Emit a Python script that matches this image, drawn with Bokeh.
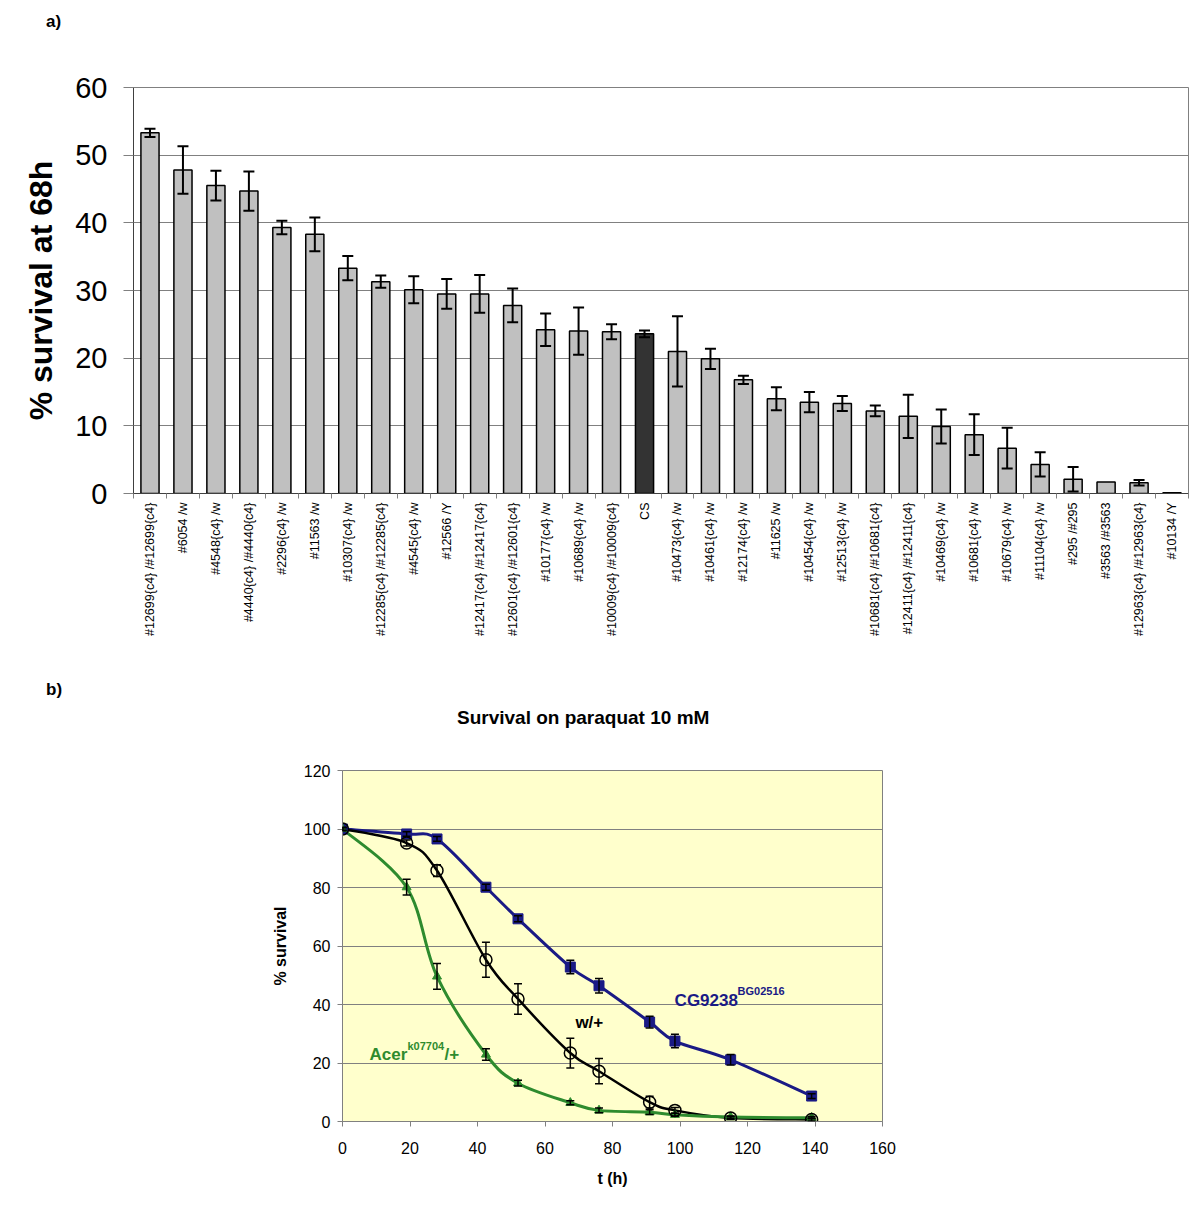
import numpy as np
from bokeh.plotting import figure
from bokeh.models import (FixedTicker, Whisker, TeeHead, ColumnDataSource, Label, Range1d, Div)
from bokeh.embed import file_html
from bokeh.resources import INLINE

# ---------------- data: panel a ----------------
strains = ["#12699{c4} /#12699{c4}", "#6054 /w", "#4548{c4} /w", "#4440{c4} /#4440{c4}",
           "#2296{c4} /w", "#11563 /w", "#10307{c4} /w", "#12285{c4} /#12285{c4}",
           "#4545{c4} /w", "#12566 /Y", "#12417{c4} /#12417{c4}", "#12601{c4} /#12601{c4}",
           "#10177{c4} /w", "#10689{c4} /w", "#10009{c4} /#10009{c4}", "CS",
           "#10473{c4} /w", "#10461{c4} /w", "#12174{c4} /w", "#11625 /w",
           "#10454{c4} /w", "#12513{c4} /w", "#10681{c4} /#10681{c4}", "#12411{c4} /#12411{c4}",
           "#10469{c4} /w", "#10681{c4} /w", "#10679{c4} /w", "#11104{c4} /w",
           "#295 /#295", "#3563 /#3563", "#12963{c4} /#12963{c4}", "#10134 /Y"]
survival = [53.3, 47.8, 45.5, 44.7, 39.3, 38.3, 33.3, 31.3, 30.1, 29.5, 29.5, 27.8,
            24.2, 24.0, 23.9, 23.6, 21.0, 19.9, 16.8, 14.0, 13.5, 13.3, 12.2, 11.4,
            9.9, 8.7, 6.7, 4.3, 2.1, 1.7, 1.6, 0.1]
survival_err = [0.6, 3.5, 2.2, 2.9, 1.0, 2.5, 1.8, 0.9, 2.0, 2.2, 2.8, 2.5,
                2.4, 3.5, 1.1, 0.5, 5.2, 1.5, 0.6, 1.7, 1.5, 1.1, 0.8, 3.2,
                2.5, 3.0, 3.0, 1.8, 1.8, 0.0, 0.4, 0.0]
y_ticks_a = [0, 10, 20, 30, 40, 50, 60]

# ---------------- data: panel b ----------------
t_hours = [0, 19, 28, 42.5, 52, 67.5, 76, 91, 98.5, 115, 139]
cg9238 = [100, 98.3, 96.6, 80.1, 69.3, 52.8, 46.4, 34.0, 27.5, 21.1, 8.7]
cg9238_err = [0.5, 0.8, 0.8, 1.0, 1.0, 2.3, 2.5, 2.0, 2.3, 1.8, 0.8]
w_plus = [100, 95.2, 85.8, 55.3, 41.9, 23.4, 17.2, 6.6, 3.8, 1.2, 0.7]
w_plus_err = [0.5, 1.0, 2.0, 6.0, 5.2, 5.1, 4.3, 2.0, 1.0, 0.5, 0.5]
acer = [100, 80.1, 49.6, 22.9, 13.1, 6.4, 3.8, 3.2, 2.3, 1.5, 1.3]
acer_err = [0.5, 2.7, 4.4, 2.0, 1.0, 0.7, 0.8, 0.8, 0.5, 0.4, 0.4]
x_ticks_b = [0, 20, 40, 60, 80, 100, 120, 140, 160]
y_ticks_b = [0, 20, 40, 60, 80, 100, 120]

FONT = "Liberation Sans"
W = 1200

# =============== panel label a) ===============
div_a = Div(width=W, height=40, margin=0,
            text=('<div style="position:relative;width:1200px;height:40px;'
                  'font-family:\'Liberation Sans\';font-weight:bold;font-size:17px;line-height:1;color:black;">'
                  '<span style="position:absolute;left:46px;top:13px;">a)</span></div>'))

# =============== panel a ===============
n = len(strains)
xs = [i + 0.5 for i in range(n)]
colors = ["#333333" if s == "CS" else "#C0C0C0" for s in strains]

p1 = figure(width=W, height=628, output_backend="svg", toolbar_location=None,
            x_range=Range1d(0, n), y_range=Range1d(0, 60),
            min_border_left=133, min_border_right=12, min_border_top=47, min_border_bottom=175)
p1.background_fill_color = "white"
p1.border_fill_color = "white"
p1.outline_line_color = "#808080"
p1.xgrid.visible = False
p1.ygrid.grid_line_color = "#808080"
p1.ygrid.grid_line_width = 1

src_a = ColumnDataSource(dict(x=xs, top=survival, color=colors))
p1.vbar(x="x", top="top", width=0.55, source=src_a, fill_color="color",
        line_color="black", line_width=1.5)

ex = [x for x, e in zip(xs, survival_err) if e > 0]
eu = [v + e for v, e in zip(survival, survival_err) if e > 0]
el = [v - e for v, e in zip(survival, survival_err) if e > 0]
wsrc = ColumnDataSource(dict(x=ex, upper=eu, lower=el))
p1.add_layout(Whisker(source=wsrc, base="x", upper="upper", lower="lower", level="annotation",
                      line_color="black", line_width=2,
                      upper_head=TeeHead(size=11, line_width=2, line_color="black"),
                      lower_head=TeeHead(size=11, line_width=2, line_color="black")))

xa = p1.xaxis[0]
xa.ticker = FixedTicker(ticks=xs, minor_ticks=list(range(n + 1)))
xa.major_label_overrides = {x: s for x, s in zip(xs, strains)}
xa.major_label_orientation = np.pi / 2
xa.major_label_text_font = FONT
xa.major_label_text_font_size = "12.5px"
xa.major_label_text_color = "black"
xa.major_label_standoff = 4
xa.major_tick_out = 0
xa.major_tick_in = 0
xa.minor_tick_out = 5
xa.minor_tick_in = 0
xa.minor_tick_line_color = "#808080"
xa.axis_line_color = "#404040"

ya = p1.yaxis[0]
ya.ticker = FixedTicker(ticks=y_ticks_a)
ya.major_label_text_font = FONT
ya.major_label_text_font_size = "29px"
ya.major_label_text_color = "black"
ya.major_tick_out = 10
ya.major_tick_in = 0
ya.minor_tick_out = 0
ya.minor_tick_in = 0
ya.major_label_standoff = 16
ya.axis_line_color = "#404040"
ya.major_tick_line_color = "#808080"
ya.axis_label = "% survival at 68h"
ya.axis_label_text_font = FONT
ya.axis_label_text_font_size = "32px"
ya.axis_label_text_font_style = "bold"
ya.axis_label_text_color = "black"
ya.axis_label_standoff = 13

# =============== panel label b) and title ===============
div_b = Div(width=W, height=60, margin=0,
            text=('<div style="position:relative;width:1200px;height:60px;'
                  'font-family:\'Liberation Sans\';font-weight:bold;line-height:1;color:black;">'
                  '<span style="position:absolute;left:46px;top:13px;font-size:17px;">b)</span>'
                  '<span style="position:absolute;left:457px;top:40px;font-size:19px;">'
                  'Survival on paraquat 10 mM</span></div>'))

# =============== panel b ===============
H2 = 481
p2 = figure(width=W, height=H2, output_backend="svg", toolbar_location=None,
            x_range=Range1d(0, 160), y_range=Range1d(0, 120),
            min_border_left=342, min_border_right=318, min_border_top=42, min_border_bottom=88)
p2.background_fill_color = "#FFFFCC"
p2.border_fill_color = "white"
p2.outline_line_color = "#808080"
p2.xgrid.visible = False
p2.ygrid.grid_line_color = "#808080"
p2.ygrid.grid_line_width = 1


def smooth(p, xv, yv, color, width):
    pts = list(zip(xv, yv))
    m = len(pts)
    d = dict(x0=[], y0=[], x1=[], y1=[], cx0=[], cy0=[], cx1=[], cy1=[])
    for i in range(m - 1):
        p0 = pts[i - 1] if i > 0 else pts[i]
        a = pts[i]
        b = pts[i + 1]
        p3 = pts[i + 2] if i + 2 < m else pts[i + 1]
        d["x0"].append(a[0]); d["y0"].append(a[1])
        d["x1"].append(b[0]); d["y1"].append(b[1])
        d["cx0"].append(a[0] + (b[0] - p0[0]) / 6.0)
        d["cy0"].append(a[1] + (b[1] - p0[1]) / 6.0)
        d["cx1"].append(b[0] - (p3[0] - a[0]) / 6.0)
        d["cy1"].append(b[1] - (p3[1] - a[1]) / 6.0)
    p.bezier(x0="x0", y0="y0", x1="x1", y1="y1", cx0="cx0", cy0="cy0", cx1="cx1", cy1="cy1",
             source=ColumnDataSource(d), line_color=color, line_width=width)


def errbars(p, xv, yv, ev):
    s = ColumnDataSource(dict(x=xv, upper=[a + b for a, b in zip(yv, ev)],
                              lower=[a - b for a, b in zip(yv, ev)]))
    p.add_layout(Whisker(source=s, base="x", upper="upper", lower="lower", level="annotation",
                         line_color="black", line_width=1.5,
                         upper_head=TeeHead(size=8, line_width=1.5, line_color="black"),
                         lower_head=TeeHead(size=8, line_width=1.5, line_color="black")))


BLUE = "#1A1A85"
GREEN = "#2E8B2E"

smooth(p2, t_hours, cg9238, BLUE, 3)
smooth(p2, t_hours, w_plus, "black", 2.5)
smooth(p2, t_hours, acer, GREEN, 3)
errbars(p2, t_hours, cg9238, cg9238_err)
errbars(p2, t_hours, w_plus, w_plus_err)
errbars(p2, t_hours, acer, acer_err)
p2.scatter(t_hours, cg9238, marker="square", size=10, fill_color=BLUE, line_color=BLUE)
p2.scatter(t_hours, acer, marker="triangle", size=9, fill_color=GREEN, line_color=GREEN)
p2.scatter(t_hours, w_plus, marker="circle", size=12, fill_alpha=0, line_color="black", line_width=1.5)

xb = p2.xaxis[0]
xb.ticker = FixedTicker(ticks=x_ticks_b)
xb.major_label_text_font = FONT
xb.major_label_text_font_size = "16px"
xb.major_label_text_color = "black"
xb.major_tick_out = 5
xb.major_tick_in = 0
xb.minor_tick_out = 0
xb.minor_tick_in = 0
xb.major_label_standoff = 15
xb.axis_line_color = "#808080"
xb.major_tick_line_color = "#808080"
xb.axis_label = "t (h)"
xb.axis_label_text_font = FONT
xb.axis_label_text_font_size = "16px"
xb.axis_label_text_font_style = "bold"
xb.axis_label_text_color = "black"
xb.axis_label_standoff = 13

yb = p2.yaxis[0]
yb.ticker = FixedTicker(ticks=y_ticks_b)
yb.major_label_text_font = FONT
yb.major_label_text_font_size = "16px"
yb.major_label_text_color = "black"
yb.major_tick_out = 5
yb.major_tick_in = 0
yb.minor_tick_out = 0
yb.minor_tick_in = 0
yb.major_label_standoff = 7
yb.axis_line_color = "#808080"
yb.major_tick_line_color = "#808080"
yb.axis_label = "% survival"
yb.axis_label_text_font = FONT
yb.axis_label_text_font_size = "16px"
yb.axis_label_text_font_style = "bold"
yb.axis_label_text_color = "black"
yb.axis_label_standoff = 12


# series annotations with superscripts
def ann(x, y, main, sup, tail, color, main_w, sup_w):
    p2.add_layout(Label(x=x, y=y, text=main, text_color=color, text_font=FONT,
                        text_font_size="17px", text_font_style="bold",
                        text_baseline="alphabetic", text_align="left"))
    if sup:
        p2.add_layout(Label(x=x, y=y, x_offset=main_w, y_offset=9, text=sup, text_color=color,
                            text_font=FONT, text_font_size="11px", text_font_style="bold",
                            text_baseline="alphabetic", text_align="left"))
    if tail:
        p2.add_layout(Label(x=x, y=y, x_offset=main_w + sup_w, text=tail, text_color=color,
                            text_font=FONT, text_font_size="17px", text_font_style="bold",
                            text_baseline="alphabetic", text_align="left"))

ann(98.4, 41.4, "CG9238", "BG02516", "", BLUE, 63, 47)
ann(69, 34.0, "w/+", "", "", "black", 0, 0)
ann(8.0, 22.9, "Acer", "k07704", "/+", GREEN, 38, 37)

open("out.html", "w").write(file_html([div_a, p1, div_b, p2], INLINE))
